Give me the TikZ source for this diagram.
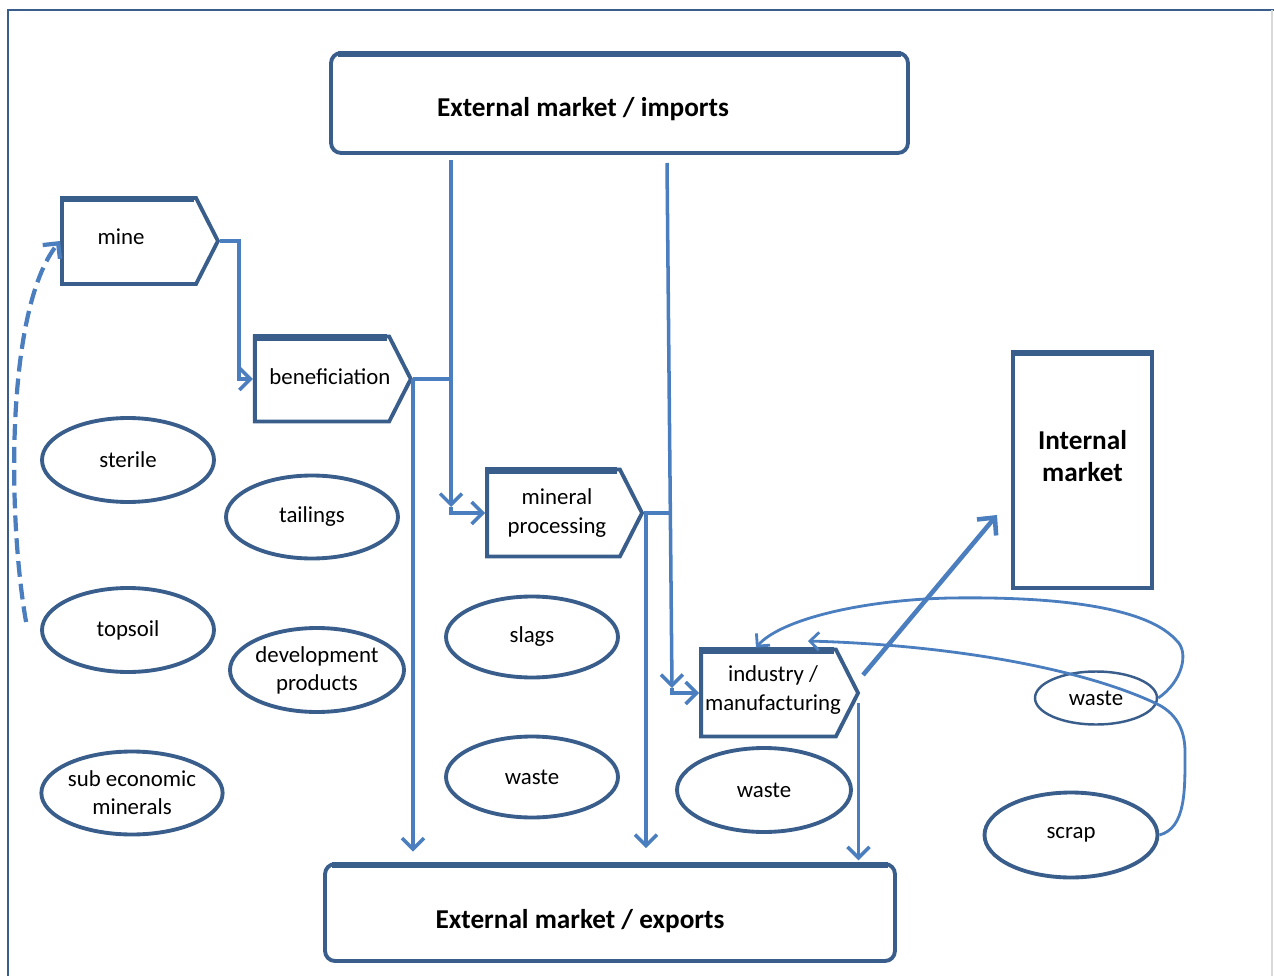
\documentclass[tikz,border=0pt]{standalone}
\usepackage{fontspec}
\setmainfont{Carlito}
\usetikzlibrary{shapes.symbols,shapes.geometric,arrows.meta}
\definecolor{bord}{RGB}{58,94,140}
\definecolor{conn}{RGB}{74,126,190}
\tikzset{
  stepbox/.style={signal, signal to=east, signal pointer angle=126, draw=bord, line width=2.2pt, fill=white, inner sep=0pt},
  steptext/.style={font=\fontsize{13}{16}\selectfont, align=center},
  oval/.style={ellipse, draw=bord, line width=2.2pt, inner sep=0pt, font=\fontsize{13}{16}\selectfont, align=center},
  bigbox/.style={draw=bord, line width=2.2pt, rounded corners=0.2cm, inner sep=0pt},
  conn/.style={draw=conn, line width=2pt},
  tip/.style={-{Straight Barb[length=2.2mm,width=4.4mm]}},
  thin/.style={draw=conn, line width=1.6pt},
  thintip/.style={-{Straight Barb[length=1.8mm,width=3.6mm]}},
  topline/.style={draw=bord, line width=3.8pt},
}
\begin{document}
\begin{tikzpicture}[x=0.02cm,y=-0.02cm]
\useasboundingbox (0,0) rectangle (1274,976);
% frame
\draw[bord, line width=1.6pt] (8,976) -- (8,10) -- (1274,10);
\draw[black!15, line width=0.6pt] (1272,10) -- (1272,976);

% big boxes
\node[bigbox, minimum width=11.54cm, minimum height=2.0cm,
  label={[xshift=-0.73cm,yshift=-0.12cm,font=\fontsize{15.5}{18}\selectfont\bfseries]center:External market / imports}] (imp) at (619.5,103) {};
\draw[topline] ([xshift=0.18cm,yshift=-1.6pt]imp.north west) -- ([xshift=-0.18cm,yshift=-1.6pt]imp.north east);
\node[bigbox, minimum width=11.4cm, minimum height=1.94cm,
  label={[xshift=-0.6cm,yshift=-0.18cm,font=\fontsize{15.5}{18}\selectfont\bfseries]center:External market / exports}] (exp) at (610,912.5) {};
\draw[topline] ([xshift=0.18cm,yshift=-1.6pt]exp.north west) -- ([xshift=-0.18cm,yshift=-1.6pt]exp.north east);
\node[draw=bord, line width=2.2pt, minimum width=2.78cm, minimum height=4.72cm, inner sep=0pt,
  label={[yshift=0.28cm,font=\fontsize{15.5}{18.5}\selectfont\bfseries,align=center]center:Internal\\market}] (intm) at (1082.5,470) {};
\draw[topline] ([yshift=-1.6pt]intm.north west) -- ([yshift=-1.6pt]intm.north east);

% process steps
\node[stepbox, minimum width=3.12cm, minimum height=1.72cm,
  label={[steptext,xshift=-0.16cm,yshift=0.08cm]center:mine}] (mine) at (129,241) {};
\node[stepbox, minimum width=3.12cm, minimum height=1.70cm,
  label={[steptext,xshift=0.16cm,yshift=0.04cm]center:beneficiation}] (benef) at (322,379) {};
\node[stepbox, minimum width=3.10cm, minimum height=1.74cm,
  label={[steptext,xshift=0.07cm]center:mineral\\processing}] (mp) at (553.5,513) {};
\node[stepbox, minimum width=3.14cm, minimum height=1.74cm,
  label={[steptext,xshift=0.09cm,yshift=0.06cm]center:industry /\\manufacturing}] (ind) at (768.5,693) {};
\foreach \n/\w in {mine/2.68,benef/2.68,mp/2.64,ind/2.7}{
  \draw[topline] ([yshift=-1.6pt]\n.north west) -- ([xshift=\w cm,yshift=-1.6pt]\n.north west);
}

% ellipses
\node[oval, minimum width=3.44cm, minimum height=1.68cm] (sterile) at (128,460) {sterile};
\node[oval, minimum width=3.44cm, minimum height=1.66cm] (tail) at (312,517) {tailings};
\node[oval, minimum width=3.44cm, minimum height=1.68cm] (topsoil) at (128,630) {topsoil};
\node[oval, minimum width=3.46cm, minimum height=1.68cm] (dev) at (317,670) {development\\products};
\node[oval, minimum width=3.46cm, minimum height=1.66cm] (sub) at (132,793) {sub economic\\minerals};
\node[oval, minimum width=3.44cm, minimum height=1.62cm] (slags) at (532,637) {slags};
\node[oval, minimum width=3.44cm, minimum height=1.62cm] (w1) at (532,777) {waste};
\node[oval, minimum width=3.48cm, minimum height=1.68cm] (w2) at (764,790) {waste};
\node[oval, line width=1.4pt, minimum width=2.44cm, minimum height=1.06cm] (w3) at (1096,698) {waste};
\node[oval, minimum width=3.46cm, minimum height=1.70cm] (scrap) at (1071,835) {scrap};

% coordinates
\coordinate (i1) at (451,160);
\coordinate (ja) at (451,507);
\coordinate (jb) at (451,379);
\coordinate (i2) at (667,163);
\coordinate (jc) at (672,688);
\coordinate (jd) at (672,513);
\coordinate (ie) at (863,675);
\coordinate (ite) at (997,515);

% connectors
\draw[conn, tip] (mine.east) -- ++(19,0) |- (benef.west);
\draw[conn] (benef.east) -- (jb);
\draw[conn, tip] (i1) -- (ja);
\draw[conn, tip] (ja) |- (mp.west);
\draw[conn, tip, shorten >=6pt] (benef.east) -- (benef.east |- exp.north);
\draw[conn] (mp.east) -- (jd);
\draw[conn, tip] (i2) -- (jc);
\draw[conn, tip] (jc) |- (ind.west);
\draw[conn, tip, shorten >=8pt] ([xshift=1pt]mp.east) -- ([xshift=1pt]mp.east |- exp.north);
\draw[conn, tip, shorten >=1pt] ([xshift=-1pt,yshift=-0.2cm]ind.east) -- ([xshift=-1pt]ind.east |- exp.north);
\draw[conn, line width=2.6pt, -{Straight Barb[length=2.6mm,width=5mm]}] (ie) -- (ite);

% dashed feedback
\draw[conn, line width=2.4pt, dash pattern=on 9pt off 4pt, tip] ([xshift=-0.28cm,yshift=0.16cm]topsoil.west) .. controls (8,520) and (5,310) .. (mine.west);

% right curves
\draw[thin, thintip] (w3.east) .. controls (1182,682) and (1190,652) .. (1176,640)
  .. controls (1140,600) and (1020,597) .. (950,598)
  .. controls (860,600) and (780,620) .. ([xshift=-0.25cm]ind.north);
\draw[thin, thintip] (scrap.east) .. controls (1186,828) and (1185,790) .. (1185,752)
  .. controls (1185,728) and (1175,712) .. (1155,703)
  .. controls (1080,668) and (950,645) .. (808,641);
\end{tikzpicture}
\end{document}
